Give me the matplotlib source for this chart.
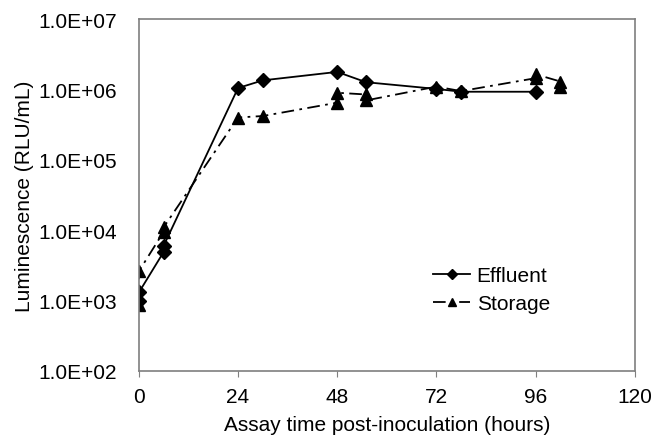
import matplotlib
matplotlib.use("Agg")
import matplotlib.pyplot as plt
from matplotlib.ticker import FixedLocator, FuncFormatter

plt.rcParams['font.family'] = ['Liberation Sans', 'DejaVu Sans']

# Effluent (diamonds) - replicate points in plotting order
eff_hours = [0, 0, 6, 6, 24, 30, 48, 55, 72, 78, 96]
eff_rlu = [1.0e3, 1.3e3, 4.9e3, 6.0e3, 1.05e6, 1.35e6, 1.78e6, 1.27e6, 1.02e6, 9.3e5, 9.3e5]

# Storage (triangles)
sto_hours = [0, 0, 6, 6, 24, 30, 48, 48, 55, 55, 72, 78, 96, 96, 102, 102]
sto_rlu = [8.5e2, 2.6e3, 9.5e3, 1.1e4, 4.0e5, 4.2e5, 6.5e5, 9.0e5, 8.5e5, 7.0e5,
           1.1e6, 9.5e5, 1.45e6, 1.65e6, 1.3e6, 1.1e6]

x_ticks = [0, 24, 48, 72, 96, 120]
y_ticks = [1e2, 1e3, 1e4, 1e5, 1e6, 1e7]

fig = plt.figure(figsize=(6.55, 4.39), dpi=100)
ax = fig.add_axes([0.212, 0.153, 0.757, 0.801])

ax.plot(eff_hours, eff_rlu, color='black', lw=1.3, marker='D', markersize=7,
        label='Effluent')
ax.plot(sto_hours, sto_rlu, color='black', lw=1.3, marker='^', markersize=8.5,
        dashes=(7, 3, 1.5, 3), label='Storage')

ax.set_yscale('log')
ax.set_xlim(0, 120)
ax.set_ylim(1e2, 1e7)
ax.xaxis.set_major_locator(FixedLocator(x_ticks))
ax.yaxis.set_major_locator(FixedLocator(y_ticks))
ax.yaxis.set_minor_locator(FixedLocator([]))
ax.yaxis.set_major_formatter(FuncFormatter(lambda v, p: f"{v:.1E}"))

for s in ax.spines.values():
    s.set_color('#7f7f7f')
    s.set_linewidth(1.2)
ax.tick_params(axis='x', direction='out', length=4, color='#7f7f7f', labelsize=15, pad=8)
ax.tick_params(axis='y', direction='out', length=0, color='#7f7f7f', labelsize=15, pad=16)

ax.set_xlabel('Assay time post-inoculation (hours)', fontsize=15, labelpad=6)
ax.set_ylabel('Luminescence (RLU/mL)', fontsize=15, labelpad=3)

ax.legend(loc='upper left', bbox_to_anchor=(0.555, 0.352), frameon=False, fontsize=15,
          handlelength=1.8, handletextpad=0.3, labelspacing=0.45, markerscale=0.7)

fig.savefig('out.png', dpi=100)
